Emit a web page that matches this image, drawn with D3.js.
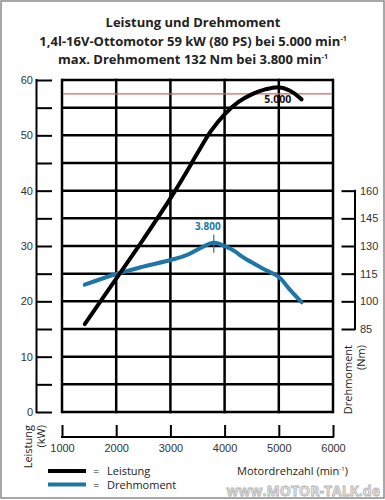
<!DOCTYPE html>
<html>
<head>
<meta charset="utf-8">
<script src="https://cdn.jsdelivr.net/npm/d3@7"></script>
<style>
  body { margin: 0; background: #fff; }
  svg { display: block; font-family: "Open Sans", "DejaVu Sans", sans-serif; }
</style>
</head>
<body>
<svg id="chart" width="385" height="500"></svg>
<script>
// Leistung (kW) ueber Drehzahl
const powerRpm = [1420, 2000, 2500, 3000, 3250, 3500, 3750, 4000, 4250, 4500, 4750, 5000, 5200, 5420]
const powerKw  = [15.9, 24.1, 31.2, 38.6, 42.6, 46.8, 50.8, 53.8, 56.0, 57.4, 58.3, 58.7, 58.1, 56.5]

// Drehmoment (Nm) ueber Drehzahl
const torqueRpm = [1420, 2000, 2500, 3000, 3300, 3550, 3800, 4100, 4400, 4770, 5000, 5200, 5420]
const torqueNm  = [109, 114.8, 118.8, 122.4, 125.0, 128.8, 131.8, 128.6, 122.8, 116.8, 113.2, 106.5, 99.5]

const kwTicks = d3.range(0, 61, 5)
const nmTicks = [85, 100, 115, 130, 145, 160]
const rpmTicks = [1000, 2000, 3000, 4000, 5000, 6000]
const ratedKw = 57.5
const peakTorque = { rpm: 3800, nm: 131.8, label: "3.800" }
const peakPower = { rpm: 5000, label: "5.000" }

const svg = d3.select("#chart")

const x = d3.scaleLinear().domain([1000, 6000]).range([62, 333])
const y = d3.scaleLinear().domain([0, 60]).range([412, 80])
// Nm-Skala liegt auf dem kW-Raster: 85 Nm = 15 kW, 160 Nm = 40 kW
const yNm = d3.scaleLinear().domain([85, 160]).range([y(15), y(40)])

const blue = "#1d76a6"

// frame
svg.append("rect")
    .attr("x", 1).attr("y", 1).attr("width", 383).attr("height", 497)
    .attr("fill", "none").attr("stroke", "#8a8a8a").attr("stroke-width", 1.5)

// title
const title = svg.append("text")
    .attr("text-anchor", "middle")
    .attr("font-weight", "bold")
    .attr("font-size", 13)
    .attr("fill", "#222")
title.append("tspan").attr("x", 193).attr("y", 27).text("Leistung und Drehmoment")
title.append("tspan").attr("x", 193).attr("y", 46).text("1,4l-16V-Ottomotor 59 kW (80 PS) bei 5.000 min")
title.append("tspan").attr("font-size", 7).attr("dy", -5).text("-1")
title.append("tspan").attr("x", 193).attr("y", 64).text("max. Drehmoment 132 Nm bei 3.800 min")
title.append("tspan").attr("font-size", 7).attr("dy", -5).text("-1")

// grid
svg.append("g")
    .selectAll("line")
    .data(kwTicks)
    .enter()
    .append("line")
    .attr("x1", x(1000)).attr("x2", x(6000))
    .attr("y1", d => y(d)).attr("y2", d => y(d))
    .attr("stroke", "#000").attr("stroke-width", 2.5)

svg.append("g")
    .selectAll("line")
    .data(rpmTicks)
    .enter()
    .append("line")
    .attr("x1", d => x(d)).attr("x2", d => x(d))
    .attr("y1", y(0) + 1.2).attr("y2", y(60) - 1.2)
    .attr("stroke", "#000").attr("stroke-width", 2.5)

// red line at rated power
svg.append("line")
    .attr("x1", x(1000) + 1).attr("x2", x(6000) - 1)
    .attr("y1", y(ratedKw)).attr("y2", y(ratedKw))
    .attr("stroke", "#c96a6a").attr("stroke-width", 1.2)

// left axis (kW)
const leftAxis = svg.append("g")
    .attr("transform", "translate(52,0)")
    .call(d3.axisLeft(y).tickValues(kwTicks).tickSize(16).tickSizeOuter(0).tickPadding(3)
        .tickFormat(d => d % 10 == 0 ? d : ""))
leftAxis.select(".domain").remove()
leftAxis.selectAll("line").attr("stroke-width", 2)
leftAxis.selectAll("text").attr("font-size", 11).attr("fill", "#333").attr("font-family", null)
svg.append("line")
    .attr("x1", 36.5).attr("x2", 36.5).attr("y1", y(60) - 1).attr("y2", y(0) + 1)
    .attr("stroke", "#000").attr("stroke-width", 2)

// right axis (Nm)
const rightAxis = svg.append("g")
    .attr("transform", "translate(341.5,0)")
    .call(d3.axisRight(yNm).tickValues(nmTicks).tickSize(13.5).tickSizeOuter(0).tickPadding(5))
rightAxis.select(".domain").remove()
rightAxis.selectAll("line").attr("stroke-width", 2)
rightAxis.selectAll("text").attr("font-size", 11).attr("fill", "#333").attr("font-family", null)
svg.append("line")
    .attr("x1", 355).attr("x2", 355).attr("y1", yNm(160) - 1).attr("y2", yNm(85) + 1)
    .attr("stroke", "#000").attr("stroke-width", 2)

// bottom axis (rpm)
const bottomAxis = svg.append("g")
    .attr("transform", "translate(0,425)")
    .call(d3.axisBottom(x).tickValues(rpmTicks).tickSize(12).tickSizeOuter(0).tickPadding(7)
        .tickFormat(d3.format("d")))
bottomAxis.select(".domain").remove()
bottomAxis.selectAll("line").attr("stroke-width", 2)
bottomAxis.selectAll("text").attr("font-size", 11).attr("fill", "#333").attr("font-family", null)
svg.append("line")
    .attr("x1", x(1000) - 1).attr("x2", x(6000) + 1).attr("y1", 437).attr("y2", 437)
    .attr("stroke", "#000").attr("stroke-width", 2)

// curves
const powerData = powerRpm.map((r, i) => ({ rpm: r, v: powerKw[i] }))
const torqueData = torqueRpm.map((r, i) => ({ rpm: r, v: torqueNm[i] }))

svg.append("path")
    .datum(torqueData)
    .attr("fill", "none")
    .attr("stroke", blue)
    .attr("stroke-width", 4)
    .attr("stroke-linecap", "round")
    .attr("d", d3.line().x(d => x(d.rpm)).y(d => yNm(d.v)).curve(d3.curveCatmullRom.alpha(0.5)))

svg.append("path")
    .datum(powerData)
    .attr("fill", "none")
    .attr("stroke", "#000")
    .attr("stroke-width", 4)
    .attr("stroke-linecap", "round")
    .attr("d", d3.line().x(d => x(d.rpm)).y(d => y(d.v)).curve(d3.curveCatmullRom.alpha(0.5)))

// peak torque marker
svg.append("line")
    .attr("x1", x(peakTorque.rpm)).attr("x2", x(peakTorque.rpm))
    .attr("y1", yNm(peakTorque.nm) - 8).attr("y2", yNm(peakTorque.nm) + 10)
    .attr("stroke", blue).attr("stroke-width", 1.2)
svg.append("text")
    .attr("x", x(peakTorque.rpm) - 6).attr("y", yNm(peakTorque.nm) - 13)
    .attr("text-anchor", "middle").attr("font-size", 10).attr("font-weight", "bold")
    .attr("fill", blue).text(peakTorque.label)

svg.append("text")
    .attr("x", x(peakPower.rpm) - 1).attr("y", 103)
    .attr("text-anchor", "middle").attr("font-size", 10.5).attr("font-weight", "bold")
    .attr("fill", "#111").text(peakPower.label)

// axis titles
svg.append("text")
    .attr("transform", "translate(32,425) rotate(-90)")
    .attr("text-anchor", "end").attr("font-size", 11).attr("fill", "#222")
    .text("Leistung")
svg.append("text")
    .attr("transform", "translate(45,425) rotate(-90)")
    .attr("text-anchor", "end").attr("font-size", 11).attr("fill", "#222")
    .text("(kW)")
svg.append("text")
    .attr("transform", "translate(352,345) rotate(-90)")
    .attr("text-anchor", "end").attr("font-size", 11).attr("fill", "#222")
    .text("Drehmoment")
svg.append("text")
    .attr("transform", "translate(365,345) rotate(-90)")
    .attr("text-anchor", "end").attr("font-size", 11).attr("fill", "#222")
    .text("(Nm)")

const xt = svg.append("text")
    .attr("x", 348).attr("y", 475)
    .attr("text-anchor", "end").attr("font-size", 11).attr("fill", "#222")
xt.append("tspan").text("Motordrehzahl (min")
xt.append("tspan").attr("font-size", 6).attr("dy", -4).text("-1")
xt.append("tspan").attr("dy", 4).text(")")

// legend
const legend = [
    { label: "Leistung", color: "#000", y: 471 },
    { label: "Drehmoment", color: blue, y: 484.5 }
]
const lg = svg.append("g").selectAll("g").data(legend).enter().append("g")
lg.append("line")
    .attr("x1", 48).attr("x2", 86)
    .attr("y1", d => d.y).attr("y2", d => d.y)
    .attr("stroke", d => d.color).attr("stroke-width", 4)
lg.append("text")
    .attr("x", 93).attr("y", d => d.y + 4)
    .attr("font-size", 11).attr("fill", "#222").text("=")
lg.append("text")
    .attr("x", 107).attr("y", d => d.y + 4)
    .attr("font-size", 11).attr("fill", "#222").text(d => d.label)

// watermark
svg.append("text")
    .attr("x", 380).attr("y", 496)
    .attr("text-anchor", "end").attr("font-size", 14).attr("font-weight", "bold")
    .attr("fill", "#e4e4e4").attr("stroke", "#b5b5b5").attr("stroke-width", 0.8)
    .text("www.MOTOR-TALK.de")
</script>
</body>
</html>
